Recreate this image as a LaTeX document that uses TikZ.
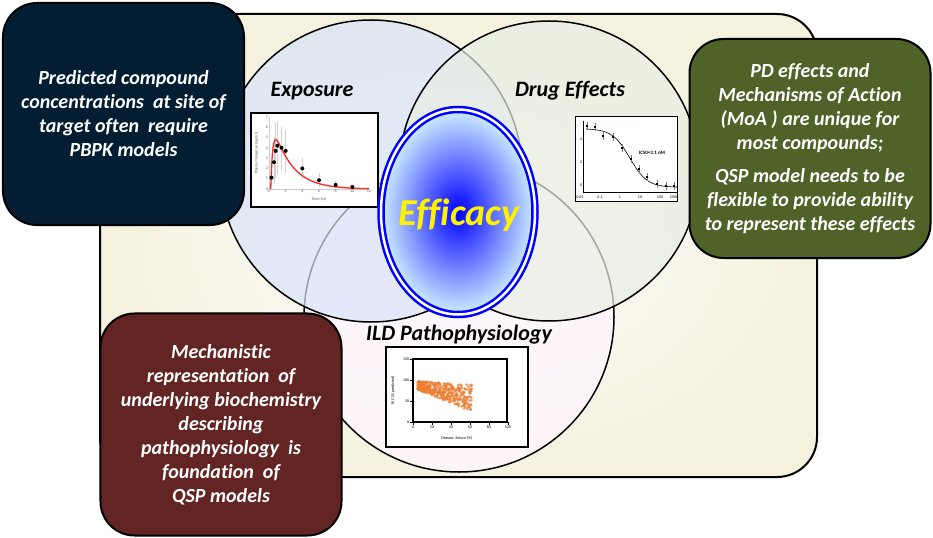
\documentclass[tikz,border=0pt]{standalone}
\usepackage{fontspec}
\setmainfont{Carlito}[Ligatures=CommonOff]
\usetikzlibrary{shapes.geometric}
\definecolor{navybox}{RGB}{3,29,51}
\definecolor{olivebox}{RGB}{79,98,40}
\definecolor{maroonbox}{RGB}{99,37,35}
\definecolor{panelcream}{RGB}{244,241,222}
\definecolor{expfill}{RGB}{217,228,250}
\definecolor{drugfill}{RGB}{232,238,226}
\definecolor{ildfill}{RGB}{255,245,255}
\definecolor{effedge}{RGB}{205,238,255}
\definecolor{scatterorange}{RGB}{237,125,49}
\newcommand{\infofont}{\fontsize{20bp}{24bp}\selectfont\bfseries\itshape}
\newcommand{\titlefont}{\fontsize{22bp}{26bp}\selectfont\bfseries\itshape}
\newcommand{\efffont}{\fontsize{38bp}{44bp}\selectfont\bfseries\itshape}
\newcommand{\tinyfont}{\fontsize{4bp}{5bp}\selectfont}
\tikzset{
    infobox/.style={draw=black, line width=2bp, rounded corners=34bp, text=white, align=center, font=\infofont, minimum width=241bp, minimum height=222bp}, % the three coloured text boxes
    venn/.style={circle, draw=black, line width=1.5bp, fill opacity=0.7, inner sep=0pt}, % the overlapping circles
    venntitle/.style={font=\titlefont}, % circle headings
    chartbox/.style={draw=black, fill=white, line width=1.2bp}, % frame round each small chart
    ticklbl/.style={font=\tinyfont, text=gray!70!black, inner sep=0.8bp}, % axis numbers
}
\begin{document}
\begin{tikzpicture}[x=1bp, y=-1bp]
\useasboundingbox (0,0) rectangle (933,538);
% background panel
\draw[line width=2bp, rounded corners=40bp, inner color=white, outer color=panelcream] (100,14) rectangle (817,477);
% the three circles
\node[venn, fill=ildfill, minimum size=310bp] (ild) at (459,317) {};
\node[venn, fill=expfill, minimum size=302bp] (exposure) at (371,171) {};
\node[venn, fill=drugfill, minimum size=300bp] (drug) at (549,171) {};
\node[venntitle] (exptitle) at (312,91) {Exposure};
\node[venntitle] (drugtitle) at (570,91) {Drug Effects};
\node[venntitle] (ildtitle) at (459,335) {ILD Pathophysiology};
% exposure chart
\draw[chartbox] (251,113) rectangle (378,207);
\begin{scope}[shift={(269,189)}, x=8.33bp, y=10.3bp]
    \draw[gray!40] (0,7) -- (0,0) -- (12,0);
    \foreach \v in {0,...,7} \node[ticklbl, left] at (0,\v) {\v};
    \foreach \v in {0,2,...,12} \node[ticklbl, below] at (\v,0) {\v};
    \node[ticklbl] at (6,-1.05) {Time (hr)};
    \node[ticklbl, rotate=90] at (-1.5,3.5) {Plasma Tolvaptan (ng/mL)};
    \foreach \ti/\cv/\elo/\ehi in {0.3/1.1/0.2/2.2, 0.6/2.6/0.5/5.0, 0.8/3.7/1.0/6.4, 1.0/4.2/1.5/6.6, 1.5/4.0/1.8/6.0, 2.0/3.7/1.6/5.7, 4.0/2.0/1.0/3.0, 6.0/0.85/0.2/1.6, 8.0/0.4/0.1/0.75, 10.0/0.2/0.05/0.4}
        \draw[gray!35, line width=0.8bp] (\ti,\elo) -- (\ti,\ehi);
    \draw[red!85!white, line width=1.3bp, domain=0.2:12, samples=70, smooth] plot (\x, {7.13*(exp(-0.45*(\x-0.2))-exp(-4*(\x-0.2)))});
    \foreach \ti/\cv in {0.3/1.1, 0.6/2.6, 0.8/3.7, 1.0/4.2, 1.5/4.0, 2.0/3.7, 4.0/2.0, 6.0/0.85, 8.0/0.4, 10.0/0.2}
        \fill (\ti,\cv) circle[radius=2bp];
\end{scope}
% drug effect chart
\draw[chartbox, line width=1bp] (575,117) rectangle (677,202);
\begin{scope}[shift={(580,185)}, x=20bp, y=11.5bp]
    \draw[line width=0.6bp] (0.15,5.6) -- (0.15,-0.6) -- (4.85,-0.6);
    \foreach \v in {0,2,4} \node[ticklbl, text=black, left] at (0.15,\v) {\v};
    \foreach \du/\lbl in {0/0.01, 1/0.1, 2/1, 3/10, 4/100, 4.7/1000} \node[ticklbl, text=black] at (\du,-1.1) {\lbl};
    \draw[line width=0.6bp, domain=0.3:4.85, samples=50, smooth] plot (\x, {-0.2+5.1/(1+10^(\x-2.4914))});
    \foreach \du/\dv in {0.35/5.13, 0.75/5.04, 1.15/4.26, 1.65/4.17, 2.1/3.22, 2.55/2.26, 2.95/1.39, 3.35/0.70, 3.85/0.09, 4.3/-0.09, 4.7/-0.09}{
        \draw[gray, line width=0.4bp] (\du,\dv-0.35) -- (\du,\dv+0.35);
        \fill (\du-0.04,\dv-0.09) rectangle ++(0.08,0.18);
    }
    \node[ticklbl, text=black, font=\fontsize{5bp}{6bp}\selectfont\bfseries] (ic50) at (3.6,2.78) {IC50=3.1 nM};
\end{scope}
% ILD chart
\draw[chartbox] (386,347) rectangle (528,447);
\begin{scope}[shift={(413,422)}, x=0.95bp, y=0.42bp]
    \pgfmathsetseed{42}
    \foreach \i in {1,...,420}{
        \pgfmathsetmacro\px{5+57*rnd^1.3}
        \pgfmathsetmacro\py{90-0.55*\px+(rnd-0.5)*2*(8+0.4*\px)}
        \fill[scatterorange, fill opacity=0.75] (\px,\py) circle[radius=1.5bp];
    }
    \draw[line width=1.8bp] (0,0) rectangle (99,150);
    \foreach \v in {0,50,100,150}{
        \draw[line width=0.5bp] (0,\v) -- (-3,\v);
        \node[ticklbl, text=black, left] at (-3,\v) {\v};
    }
    \draw[line width=0.5bp] (0,0) -- (101,0);
    \foreach \v in {0,20,...,100}{
        \draw[line width=0.5bp] (\v,0) -- (\v,-6);
        \node[ticklbl, text=black, below] at (\v,-6) {\v};
    }
    \node[ticklbl, text=black, rotate=90] at (-21,75) {FVC (\% predicted)};
    \node[ticklbl, text=black] at (46,-38) {Disease~~Extent (\%)};
\end{scope}
% efficacy ring
\node[ellipse, draw=blue, line width=2.5bp, double=white, double distance=2.5bp, inner color=blue, outer color=effedge, minimum width=154bp, minimum height=205bp, inner sep=0pt] (efficacy) at (458,212) {};
\node[font=\efffont, text=yellow] (efftext) at (459,215) {Efficacy};
% text boxes
\node[infobox, fill=navybox] (pbpk) at (123.5,114) {Predicted compound\\concentrations~ at site of\\target often~ require\\PBPK models};
\node[infobox, fill=olivebox, minimum height=219bp] (moa) at (810,148.5) {PD effects and\\Mechanisms of Action\\(MoA ) are unique for\\most compounds;\\[9bp]QSP model needs to be\\flexible to provide ability\\to represent these effects};
\node[infobox, fill=maroonbox] (qsp) at (221,424.5) {Mechanistic\\representation~ of\\underlying biochemistry\\describing\\pathophysiology~ is\\foundation~ of\\QSP models};
\end{tikzpicture}
\end{document}
